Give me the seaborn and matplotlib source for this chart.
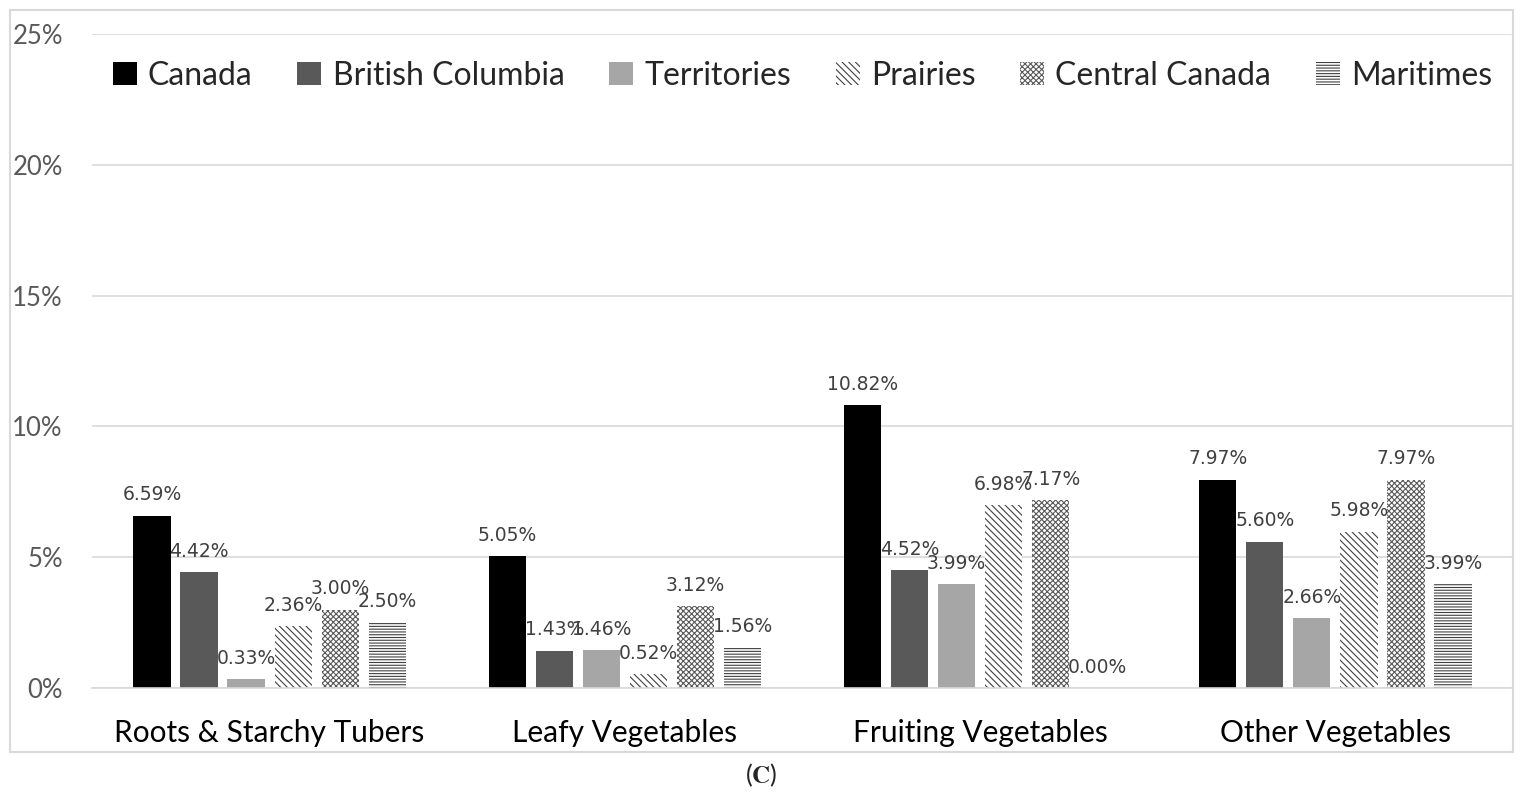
import numpy as np
import pandas as pd
import matplotlib
matplotlib.use("Agg")
import matplotlib.pyplot as plt
from matplotlib.patches import Rectangle
import seaborn as sns

sns.set_theme(style="white")
plt.rcParams['font.family'] = ['Lato', 'DejaVu Sans']
plt.rcParams['hatch.linewidth'] = 0.8
plt.rcParams['mathtext.fontset'] = 'stix'

categories = ["Roots & Starchy Tubers", "Leafy Vegetables", "Fruiting Vegetables", "Other Vegetables"]
regions = ["Canada", "British Columbia", "Territories", "Prairies", "Central Canada", "Maritimes"]

canada = [6.59, 5.05, 10.82, 7.97]
british_columbia = [4.42, 1.43, 4.52, 5.60]
territories = [0.33, 1.46, 3.99, 2.66]
prairies = [2.36, 0.52, 6.98, 5.98]
central_canada = [3.00, 3.12, 7.17, 7.97]
maritimes = [2.50, 1.56, 0.00, 3.99]

yticks = [0, 5, 10, 15, 20, 25]

series = [canada, british_columbia, territories, prairies, central_canada, maritimes]
df = pd.DataFrame({
    "category": np.repeat([categories], len(regions), axis=0).ravel(),
    "region": np.repeat(regions, len(categories)),
    "value": np.concatenate(series),
})

fills = ["#000000", "#595959", "#a6a6a6", "white", "white", "white"]
hatches = [None, None, None, "\\\\\\\\\\", "xxxxxx", "------"]
hatch_cols = [None, None, None, "#404040", "#595959", "#404040"]

fig = plt.figure(figsize=(15.23, 7.97), dpi=100)
ax = fig.add_axes([92 / 1523, 1 - 688 / 797, 1421 / 1523, 654 / 797])

sns.barplot(data=df, x="category", y="value", hue="region", order=categories,
            hue_order=regions, palette=fills, width=0.795, gap=0.21,
            legend=False, ax=ax, saturation=1)

for i, cont in enumerate(ax.containers):
    for bar in cont:
        if hatches[i]:
            bar.set_hatch(hatches[i])
            bar.set_edgecolor(hatch_cols[i])
        bar.set_linewidth(0)
    ax.bar_label(cont, labels=[f"{v:.2f}%" for v in series[i]], padding=8,
                 fontsize=13.5, color="#404040", family="DejaVu Sans")

ax.set_xlim(-0.5, 3.5)
ax.set_ylim(0, 25)
ax.set_yticks(yticks)
ax.set_yticklabels([f"{t}%" for t in yticks])
ax.yaxis.grid(True, color="#d9d9d9", linewidth=1.2)
ax.set_axisbelow(True)
for s in ["top", "right", "left"]:
    ax.spines[s].set_visible(False)
ax.spines["bottom"].set_color("#d9d9d9")
ax.spines["bottom"].set_linewidth(1.2)
ax.set_xlabel("")
ax.set_ylabel("")
ax.tick_params(axis="x", labelsize=21.5, pad=22, colors="black", length=0)
ax.tick_params(axis="y", labelsize=18.5, pad=21, labelcolor="#595959", length=0)

ax.legend(ax.containers, regions, loc="center", bbox_to_anchor=(0.5, 0.936),
          ncol=6, frameon=False, fontsize=23, handlelength=0.75, handleheight=0.75,
          handletextpad=0.35, columnspacing=1.4)

fig.patches.append(Rectangle((10 / 1523, 1 - 752 / 797), 1503 / 1523, 742 / 797,
                             transform=fig.transFigure, fill=False,
                             edgecolor="#d9d9d9", linewidth=1.5))
fig.text(0.5, 1 - 775 / 797, r"($\mathbf{C}$)", ha="center", va="center", fontsize=18)

fig.savefig("out.png", dpi=100)
